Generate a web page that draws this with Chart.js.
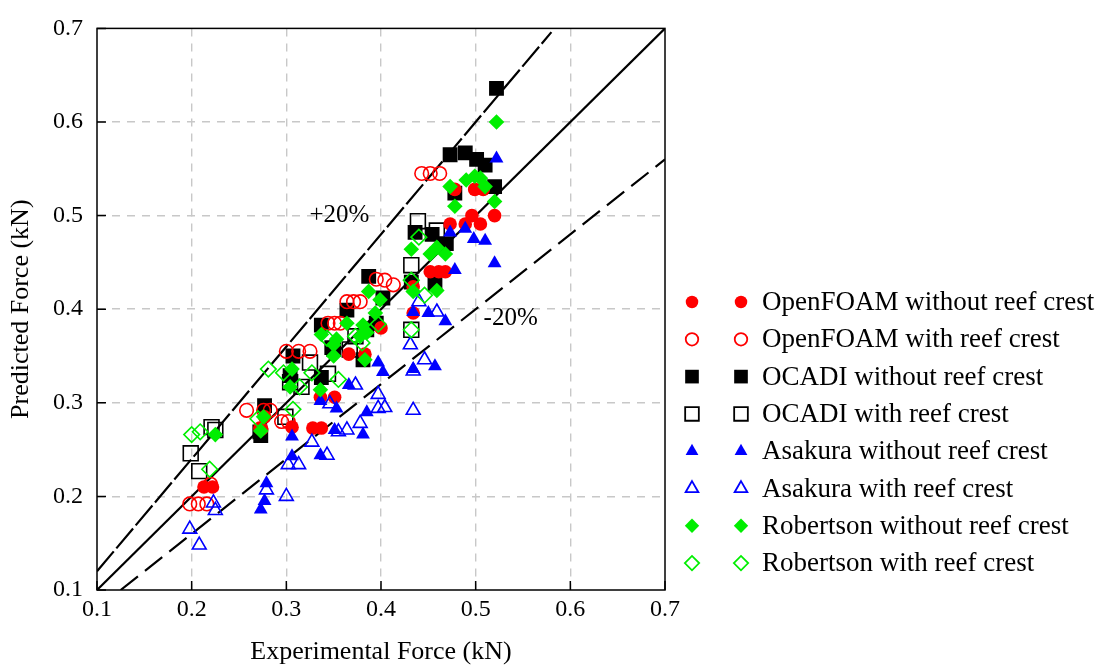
<!DOCTYPE html>
<html>
<head>
<meta charset="utf-8">
<script src="https://cdn.jsdelivr.net/npm/chart.js@4/dist/chart.umd.min.js"></script>
<style>
  html, body { margin: 0; padding: 0; background: #fff; }
  #wrap { width: 1110px; height: 672px; }
</style>
</head>
<body>
<div id="wrap"><canvas id="forceChart" width="1110" height="672"></canvas></div>
<script>
// [experimental, predicted] pairs in kN
const openFoamWithout = [[0.213,0.210],[0.222,0.210],[0.274,0.272],[0.277,0.285],[0.272,0.273],[0.306,0.274],
  [0.328,0.273],[0.337,0.273],[0.336,0.306],[0.351,0.306],[0.366,0.352],[0.383,0.352],[0.400,0.380],
  [0.434,0.396],[0.434,0.424],[0.452,0.440],[0.461,0.440],[0.468,0.440],[0.473,0.491],[0.489,0.491],
  [0.505,0.491],[0.496,0.500],[0.520,0.500],[0.478,0.528],[0.499,0.528],[0.508,0.528]];
const openFoamWith = [[0.198,0.192],[0.207,0.192],[0.216,0.192],[0.220,0.213],[0.258,0.292],[0.276,0.292],
  [0.283,0.292],[0.295,0.280],[0.302,0.280],[0.300,0.355],[0.313,0.355],[0.325,0.355],[0.344,0.385],
  [0.351,0.385],[0.357,0.385],[0.364,0.408],[0.371,0.408],[0.378,0.408],[0.395,0.432],[0.404,0.431],
  [0.413,0.426],[0.443,0.545],[0.452,0.545],[0.462,0.545]];
const ocadiWithout = [[0.522,0.636],[0.473,0.565],[0.489,0.567],[0.501,0.560],[0.510,0.554],[0.520,0.531],
  [0.478,0.524],[0.436,0.482],[0.454,0.480],[0.469,0.470],[0.457,0.427],[0.432,0.429],[0.387,0.435],
  [0.402,0.412],[0.364,0.399],[0.337,0.383],[0.348,0.359],[0.381,0.346],[0.395,0.385],[0.385,0.378],
  [0.307,0.350],[0.304,0.329],[0.337,0.327],[0.350,0.357],[0.277,0.297],[0.272,0.269],[0.273,0.265]];
const ocadiWith = [[0.199,0.246],[0.208,0.227],[0.221,0.274],[0.225,0.271],[0.299,0.285],[0.304,0.322],
  [0.316,0.317],[0.325,0.343],[0.344,0.331],[0.367,0.357],[0.373,0.371],[0.432,0.378],[0.432,0.447],
  [0.439,0.494],[0.459,0.484]];
const asakuraWithout = [[0.273,0.186],[0.277,0.195],[0.279,0.214],[0.306,0.264],[0.306,0.243],[0.336,0.302],
  [0.353,0.294],[0.385,0.290],[0.381,0.266],[0.351,0.271],[0.336,0.244],[0.366,0.319],[0.397,0.343],
  [0.402,0.333],[0.434,0.336],[0.457,0.339],[0.434,0.397],[0.450,0.396],[0.468,0.387],[0.473,0.482],
  [0.489,0.486],[0.498,0.475],[0.510,0.473],[0.520,0.449],[0.478,0.442],[0.522,0.561]];
const asakuraWith = [[0.198,0.165],[0.208,0.148],[0.223,0.193],[0.225,0.185],[0.279,0.207],[0.300,0.200],
  [0.302,0.234],[0.313,0.234],[0.327,0.258],[0.343,0.244],[0.346,0.299],[0.355,0.269],[0.364,0.271],
  [0.373,0.319],[0.378,0.278],[0.397,0.309],[0.397,0.294],[0.404,0.295],[0.434,0.292],[0.434,0.334],
  [0.431,0.362],[0.446,0.346],[0.440,0.408],[0.459,0.397]];
const robertsonWithout = [[0.225,0.266],[0.276,0.285],[0.273,0.270],[0.306,0.336],[0.304,0.317],[0.336,0.314],
  [0.337,0.373],[0.353,0.368],[0.350,0.350],[0.364,0.385],[0.378,0.371],[0.383,0.346],[0.381,0.383],
  [0.385,0.375],[0.387,0.419],[0.399,0.410],[0.394,0.396],[0.432,0.464],[0.452,0.459],[0.459,0.466],
  [0.468,0.459],[0.434,0.419],[0.459,0.420],[0.473,0.531],[0.490,0.538],[0.499,0.542],[0.505,0.540],
  [0.510,0.531],[0.520,0.515],[0.478,0.510],[0.522,0.600],[0.350,0.362]];
const robertsonWith = [[0.200,0.266],[0.209,0.269],[0.219,0.229],[0.307,0.293],[0.281,0.336],[0.297,0.332],
  [0.327,0.332],[0.314,0.317],[0.355,0.325],[0.270,0.283],[0.343,0.369],[0.373,0.371],[0.380,0.364],
  [0.397,0.384],[0.432,0.378],[0.432,0.431],[0.446,0.415],[0.440,0.477]];

// reference lines: perfect agreement and +/-20 %
const linePerfect = [[0.1,0.1],[0.7,0.7]];
const linePlus20 = [[0.1,0.12],[0.58,0.696]];
const lineMinus20 = [[0.125,0.1],[0.7,0.56]];

const tickValues = [0.1, 0.2, 0.3, 0.4, 0.5, 0.6, 0.7];
const serif = '"Liberation Serif", "Times New Roman", serif';

const toXY = arr => arr.map(([x, y]) => ({ x, y }));

// marker look per series, in legend order
const series = [
  { label: 'OpenFOAM without reef crest', data: openFoamWithout, color: '#ff0000', style: 'circle', r: 6.8, fill: true, order: 5 },
  { label: 'OpenFOAM with reef crest', data: openFoamWith, color: '#ff0000', style: 'circle', r: 6.8, fill: false, order: 6 },
  { label: 'OCADI without reef crest', data: ocadiWithout, color: '#000000', style: 'rect', r: 10.5, fill: true, order: 7 },
  { label: 'OCADI with reef crest', data: ocadiWith, color: '#000000', style: 'rect', r: 10.5, fill: false, order: 8 },
  { label: 'Asakura without reef crest', data: asakuraWithout, color: '#0000ff', style: 'triangle', r: 8, fill: true, order: 3 },
  { label: 'Asakura with reef crest', data: asakuraWith, color: '#0000ff', style: 'triangle', r: 8, fill: false, order: 4 },
  { label: 'Robertson without reef crest', data: robertsonWithout, color: '#00ee00', style: 'rectRot', r: 7.8, fill: true, order: 1 },
  { label: 'Robertson with reef crest', data: robertsonWith, color: '#00ee00', style: 'rectRot', r: 7.8, fill: false, order: 2 }
];

const datasets = series.map(s => ({
  label: s.label,
  data: toXY(s.data),
  pointStyle: s.style,
  pointRadius: s.r,
  pointHoverRadius: s.r,
  pointBorderWidth: s.fill ? 0 : 1.6,
  pointBackgroundColor: s.fill ? s.color : 'rgba(0,0,0,0)',
  pointBorderColor: s.color,
  showLine: false,
  order: s.order
}));

const refLine = (data, dash) => ({
  label: '_ref',
  data: toXY(data),
  showLine: true,
  borderColor: '#000',
  borderWidth: 2.2,
  borderDash: dash,
  pointRadius: 0,
  fill: false,
  order: 10
});
datasets.push(refLine(linePerfect, []));
datasets.push(refLine(linePlus20, [26, 4]));
datasets.push(refLine(lineMinus20, [22, 9]));

// frame, inward ticks, text labels and the two-marker legend
const extras = {
  id: 'extras',
  afterDraw(chart) {
    const { ctx, chartArea: a, scales } = chart;
    ctx.save();
    ctx.strokeStyle = '#000';
    ctx.lineWidth = 1.5;
    ctx.strokeRect(a.left, a.top, a.right - a.left, a.bottom - a.top);
    ctx.beginPath();
    tickValues.forEach(v => {
      const px = scales.x.getPixelForValue(v);
      const py = scales.y.getPixelForValue(v);
      ctx.moveTo(px, a.bottom); ctx.lineTo(px, a.bottom - 9);
      ctx.moveTo(a.left, py); ctx.lineTo(a.left + 9, py);
    });
    ctx.stroke();

    ctx.fillStyle = '#000';
    ctx.font = '25px ' + serif;
    ctx.textAlign = 'center';
    ctx.textBaseline = 'middle';
    ctx.fillText('+20%', scales.x.getPixelForValue(0.356), scales.y.getPixelForValue(0.5));
    ctx.fillText('-20%', scales.x.getPixelForValue(0.537), scales.y.getPixelForValue(0.39));

    ctx.font = '27px ' + serif;
    ctx.textAlign = 'left';
    series.forEach((s, i) => {
      const y = 302 + i * 37.3;
      [692, 741].forEach(x => {
        ctx.fillStyle = s.fill ? s.color : 'rgba(0,0,0,0)';
        ctx.strokeStyle = s.color;
        ctx.lineWidth = 1.8;
        Chart.helpers.drawPoint(ctx, { pointStyle: s.style, radius: s.r * 0.92, borderWidth: s.fill ? 0 : 1.8, rotation: 0 }, x, y);
      });
      ctx.fillStyle = '#000';
      ctx.fillText(s.label, 762, y + 1);
    });
    ctx.restore();
  }
};

const gridOpts = {
  color: ctx => (ctx.tick && (ctx.tick.value <= 0.1001 || ctx.tick.value >= 0.6999)) ? 'rgba(0,0,0,0)' : '#c8c8c8',
  lineWidth: 1.4,
  drawTicks: false
};

new Chart(document.getElementById('forceChart'), {
  type: 'scatter',
  data: { datasets },
  plugins: [extras],
  options: {
    responsive: false,
    animation: false,
    devicePixelRatio: 1,
    layout: { padding: { top: 22, right: 445, left: 0, bottom: 0 } },
    plugins: { legend: { display: false }, tooltip: { enabled: false } },
    scales: {
      x: {
        type: 'linear', min: 0.1, max: 0.7,
        afterFit: s => { s.height = 82; },
        afterBuildTicks: s => { s.ticks = tickValues.map(v => ({ value: v })); },
        border: { display: false, dash: [8, 7] },
        grid: gridOpts,
        ticks: { color: '#000', font: { family: serif, size: 24 }, padding: 5, maxRotation: 0, callback: v => v.toFixed(1) },
        title: { display: true, text: 'Experimental Force (kN)', color: '#000', font: { family: serif, size: 26 }, padding: { bottom: 4 } }
      },
      y: {
        type: 'linear', min: 0.1, max: 0.7,
        afterFit: s => { s.width = 97; },
        afterBuildTicks: s => { s.ticks = tickValues.map(v => ({ value: v })); },
        border: { display: false, dash: [8, 7] },
        grid: gridOpts,
        ticks: { color: '#000', font: { family: serif, size: 24 }, padding: 14, callback: v => v.toFixed(1) },
        title: { display: true, text: 'Predicted Force (kN)', color: '#000', font: { family: serif, size: 26 }, padding: { top: 6 } }
      }
    }
  }
});
</script>
</body>
</html>
